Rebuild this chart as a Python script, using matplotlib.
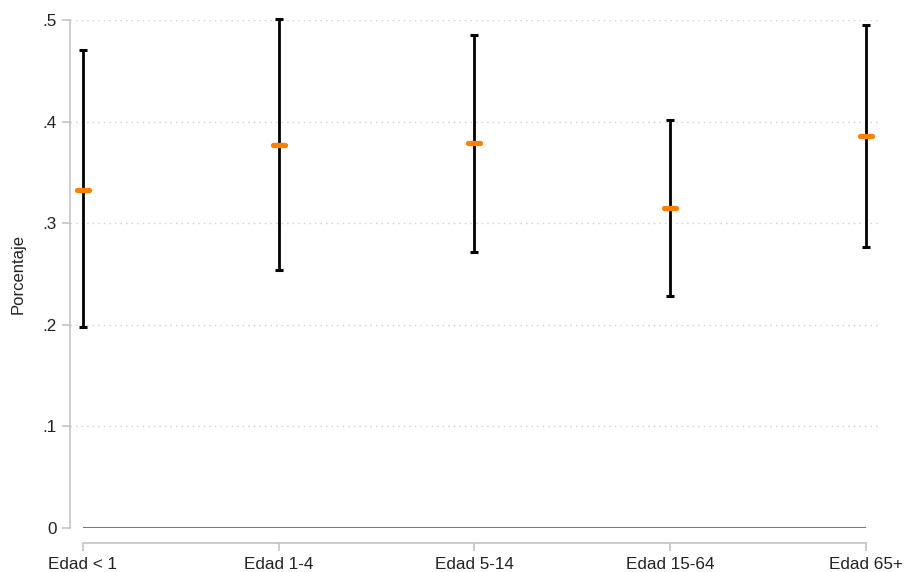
import numpy as np
import matplotlib
matplotlib.use("Agg")
import matplotlib.pyplot as plt
from matplotlib.markers import MarkerStyle

plt.rcParams['font.family'] = ['Liberation Sans', 'DejaVu Sans']

# age groups and estimates (proportion) with confidence bounds
categories = ["Edad < 1", "Edad 1-4", "Edad 5-14", "Edad 15-64", "Edad 65+"]
estimate = [0.333, 0.377, 0.379, 0.315, 0.386]
lower = [0.198, 0.254, 0.272, 0.228, 0.277]
upper = [0.470, 0.501, 0.485, 0.402, 0.495]
yticks = [0, 0.1, 0.2, 0.3, 0.4, 0.5]
yticklabels = ["0", ".1", ".2", ".3", ".4", ".5"]

x = np.arange(1, len(categories) + 1)
est = np.array(estimate)
err = np.vstack([est - np.array(lower), np.array(upper) - est])

fig = plt.figure(figsize=(9.05, 5.72), dpi=100)
ax = fig.add_axes([70 / 905, 1 - 528 / 572, 810 / 905, 508 / 572])

# grid
for yv in yticks:
    ax.axhline(yv, color='#cfcfcf', lw=1.0, ls=(0, (1, 3)), zorder=0)
ax.hlines(0, x[0], x[-1], color='#7a7a7a', lw=1.5, zorder=1)

ax.errorbar(x, est, yerr=err, fmt='none', ecolor='black', elinewidth=2.0,
            capsize=3, capthick=2.2, zorder=3, clip_on=False)
ax.plot(x, est, ls='none', marker=MarkerStyle('_', capstyle='round'),
        markersize=8, mew=3.8, color='#ff8000', zorder=4, clip_on=False)

ax.set_xlim(0.934, 5.072)
ax.set_ylim(0, 0.5)

ax.set_yticks(yticks)
ax.set_yticklabels(yticklabels)
ax.set_xticks(x)
ax.set_xticklabels(categories)
ax.set_ylabel("Porcentaje", fontsize=12, color='#222222', labelpad=12)

for s in ['top', 'right']:
    ax.spines[s].set_visible(False)
ax.spines['left'].set_color('#c4c4c4')
ax.spines['left'].set_linewidth(1.2)
ax.spines['left'].set_bounds(0, 0.5)
ax.spines['bottom'].set_color('#c4c4c4')
ax.spines['bottom'].set_linewidth(1.2)
ax.spines['bottom'].set_position(('outward', 10.6))
ax.spines['bottom'].set_bounds(x[0], x[-1])

ax.tick_params(axis='both', colors='#c4c4c4', labelcolor='#222222',
               labelsize=12.3, length=5.5, width=1.2)
ax.tick_params(axis='y', pad=4)
ax.tick_params(axis='x', pad=5)

fig.savefig("out.png", dpi=100)
